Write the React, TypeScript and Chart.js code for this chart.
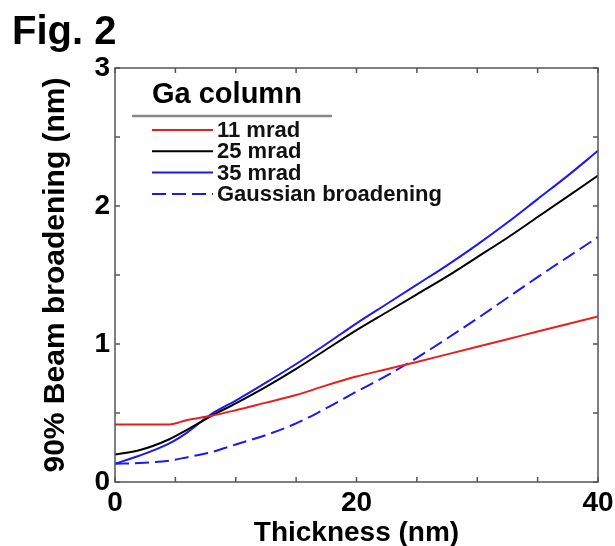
import React, { useEffect, useRef } from 'react';
import { Chart, registerables } from 'chart.js';

Chart.register(...registerables);

const figureLabel = 'Fig. 2';
const legendTitle = 'Ga column';
const xTitle = 'Thickness (nm)';
const yTitle = '90% Beam broadening (nm)';

const thickness = [0, 2, 4.5, 6, 8, 10, 12.5, 15, 17.5, 20, 22.5, 25, 27.5, 30, 32.5, 35, 37.5, 40];
const mrad11 = [0.417, 0.417, 0.417, 0.45, 0.48, 0.52, 0.575, 0.63, 0.7, 0.764, 0.817, 0.87, 0.925, 0.98, 1.035, 1.09, 1.145, 1.2];
const mrad25 = [0.2, 0.23, 0.31, 0.38, 0.48, 0.57, 0.69, 0.82, 0.96, 1.1, 1.23, 1.36, 1.49, 1.63, 1.77, 1.92, 2.07, 2.22];
const mrad35 = [0.133, 0.19, 0.28, 0.36, 0.494, 0.59, 0.72, 0.855, 1.0, 1.15, 1.29, 1.43, 1.57, 1.72, 1.88, 2.05, 2.22, 2.4];
const gaussian = [0.133, 0.137, 0.155, 0.18, 0.217, 0.272, 0.34, 0.425, 0.535, 0.655, 0.77, 0.9, 1.04, 1.185, 1.335, 1.485, 1.63, 1.775];

const seriesLabels = ['11 mrad', '25 mrad', '35 mrad', 'Gaussian broadening'];

const xTickMarks = [0, 5, 10, 15, 20, 25, 30, 35, 40];
const yTickMarks = [0, 0.5, 1, 1.5, 2, 2.5, 3];

const FONT = '"Liberation Sans", Arial, Helvetica, sans-serif';

const toPoints = (ys: number[]) => thickness.map((t, i) => ({ x: t, y: ys[i] }));

const decorPlugin = {
  id: 'decor',
  afterDraw(chart: any) {
    const { ctx, chartArea: a, scales } = chart;
    const xs = scales.x;
    const ys = scales.y;
    ctx.save();
    // axes box
    ctx.strokeStyle = '#555';
    ctx.lineWidth = 1.5;
    ctx.strokeRect(a.left, a.top, a.right - a.left, a.bottom - a.top);
    // inward tick marks on all four sides
    ctx.beginPath();
    const tl = 5;
    for (const v of xTickMarks) {
      const px = xs.getPixelForValue(v);
      ctx.moveTo(px, a.bottom);
      ctx.lineTo(px, a.bottom - tl);
      ctx.moveTo(px, a.top);
      ctx.lineTo(px, a.top + tl);
    }
    for (const v of yTickMarks) {
      const py = ys.getPixelForValue(v);
      ctx.moveTo(a.left, py);
      ctx.lineTo(a.left + tl, py);
      ctx.moveTo(a.right, py);
      ctx.lineTo(a.right - tl, py);
    }
    ctx.stroke();

    // figure label
    ctx.fillStyle = '#000';
    ctx.font = `bold 40px ${FONT}`;
    ctx.textAlign = 'left';
    ctx.textBaseline = 'alphabetic';
    ctx.fillText(figureLabel, 12, 44);

    // legend
    const lx = a.left + 37;
    ctx.font = `bold 29px ${FONT}`;
    ctx.fillText(legendTitle, lx, 103);
    ctx.strokeStyle = '#888';
    ctx.lineWidth = 2.5;
    ctx.beginPath();
    ctx.moveTo(a.left + 17, 116);
    ctx.lineTo(a.left + 217, 116);
    ctx.stroke();

    ctx.font = `bold 22px ${FONT}`;
    ctx.textBaseline = 'middle';
    chart.data.datasets.forEach((ds: any, i: number) => {
      const ly = 130 + i * 21.3;
      ctx.strokeStyle = ds.borderColor;
      ctx.lineWidth = 2;
      ctx.setLineDash(ds.borderDash || []);
      ctx.beginPath();
      ctx.moveTo(lx, ly);
      ctx.lineTo(lx + 61, ly);
      ctx.stroke();
      ctx.setLineDash([]);
      ctx.fillStyle = '#111';
      ctx.fillText(ds.label, lx + 65, ly + 1);
    });
    ctx.restore();
  },
};

export default function App() {
  const ref = useRef<HTMLCanvasElement | null>(null);

  useEffect(() => {
    document.body.style.margin = '0';
    const canvas = ref.current;
    if (!canvas) return;
    const mk = (label: string, data: number[], color: string, dash?: number[]) => ({
      label,
      data: toPoints(data),
      borderColor: color,
      backgroundColor: color,
      borderWidth: 2,
      borderDash: dash || [],
      pointRadius: 0,
      cubicInterpolationMode: 'monotone',
      fill: false,
    });
    const chart = new Chart(canvas, {
      type: 'line',
      data: {
        datasets: [
          mk(seriesLabels[0], mrad11, '#ee1c1c'),
          mk(seriesLabels[1], mrad25, '#000000'),
          mk(seriesLabels[2], mrad35, '#1a1aee'),
          mk(seriesLabels[3], gaussian, '#1a1aee', [14, 6]),
        ] as any,
      },
      options: {
        animation: false,
        responsive: false,
        devicePixelRatio: 1,
        layout: { padding: { top: 68, right: 17, left: 0, bottom: 0 } },
        plugins: { legend: { display: false }, tooltip: { enabled: false }, title: { display: false } },
        scales: {
          x: {
            type: 'linear',
            min: 0,
            max: 40,
            grid: { display: false, drawTicks: false },
            border: { display: false },
            ticks: {
              stepSize: 20,
              color: '#000',
              padding: 4,
              maxRotation: 0,
              font: { family: FONT, weight: 'bold', size: 28 },
            },
            title: {
              display: true,
              text: xTitle,
              color: '#000',
              padding: 0,
              font: { family: FONT, weight: 'bold', size: 28, lineHeight: 0.9 },
            },
            afterFit: (s: any) => {
              s.height = 64;
              s.paddingLeft = 0;
              s.paddingRight = 0;
            },
          },
          y: {
            type: 'linear',
            min: 0,
            max: 3,
            grid: { display: false, drawTicks: false },
            border: { display: false },
            ticks: {
              stepSize: 1,
              color: '#000',
              padding: 5,
              font: { family: FONT, weight: 'bold', size: 28 },
            },
            title: {
              display: true,
              text: yTitle,
              color: '#000',
              padding: { top: 38, bottom: 0 },
              font: { family: FONT, weight: 'bold', size: 30 },
            },
            afterFit: (s: any) => {
              s.width = 115;
              s.paddingTop = 0;
              s.paddingBottom = 0;
            },
          },
        },
      } as any,
      plugins: [decorPlugin],
    });
    return () => chart.destroy();
  }, []);

  return <canvas ref={ref} width={615} height={546} style={{ display: 'block' }} />;
}
